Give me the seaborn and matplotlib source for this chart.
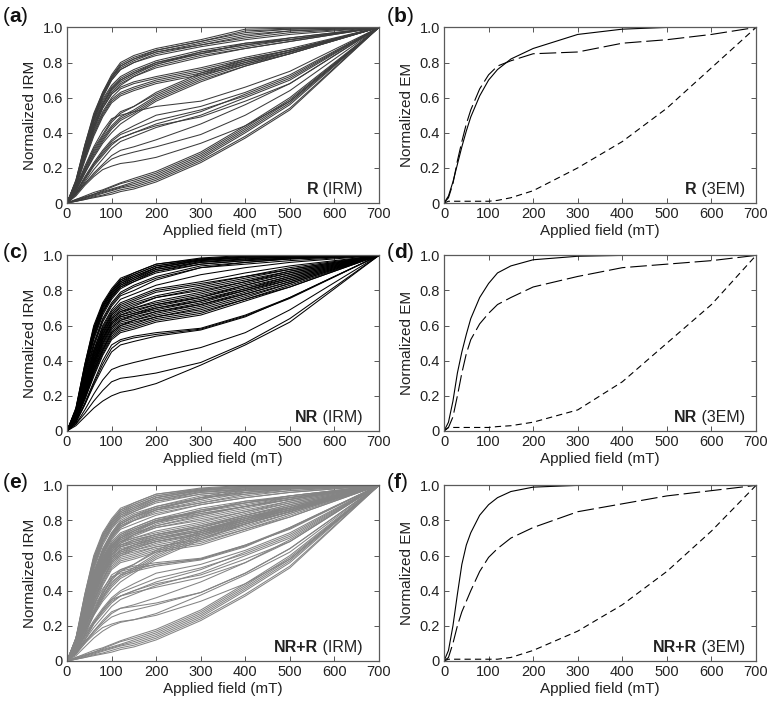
import matplotlib
matplotlib.use("Agg")
import matplotlib.pyplot as plt
import numpy as np
import pandas as pd
import seaborn as sns
from matplotlib.offsetbox import TextArea, HPacker, AnchoredOffsetbox

# ---- data ----
# IRM acquisition curves, normalized, sampled at these applied fields (mT)
field_irm = [0, 20, 40, 60, 80, 100, 120, 150, 200, 300, 400, 500, 700]

# R samples
irm_r = [
    [0, .13, .33, .50, .63, .72, .79, .83, .87, .92, .97, .99, 1],
    [0, .12, .32, .49, .62, .71, .78, .82, .86, .91, .96, .98, 1],
    [0, .12, .31, .48, .61, .71, .77, .81, .86, .90, .95, .98, 1],
    [0, .13, .33, .51, .63, .73, .80, .84, .88, .93, .99, .995, 1],
    [0, .12, .31, .48, .61, .70, .76, .80, .85, .90, .94, .97, 1],
    [0, .11, .30, .47, .60, .70, .76, .80, .84, .89, .93, .96, 1],
    [0, .12, .32, .49, .62, .72, .78, .82, .87, .92, .98, .99, 1],
    [0, .11, .29, .45, .57, .65, .70, .74, .79, .85, .89, .93, 1],
    [0, .11, .28, .44, .56, .64, .69, .73, .79, .86, .90, .93, 1],
    [0, .10, .27, .43, .55, .63, .68, .72, .78, .84, .88, .92, 1],
    [0, .11, .29, .46, .58, .66, .71, .75, .80, .86, .90, .94, 1],
    [0, .12, .30, .47, .59, .67, .72, .76, .81, .87, .91, .94, 1],
    [0, .10, .27, .42, .54, .62, .67, .72, .77, .83, .88, .92, 1],
    [0, .11, .28, .44, .56, .65, .70, .74, .80, .85, .91, .93, 1],
    [0, .10, .26, .40, .51, .59, .63, .66, .70, .75, .81, .86, 1],
    [0, .10, .25, .39, .50, .58, .62, .65, .69, .74, .80, .86, 1],
    [0, .09, .24, .38, .49, .57, .61, .64, .68, .73, .79, .85, 1],
    [0, .10, .26, .41, .52, .60, .65, .68, .71, .76, .82, .87, 1],
    [0, .11, .27, .42, .54, .62, .66, .69, .72, .77, .83, .88, 1],
    [0, .08, .19, .29, .37, .44, .49, .53, .61, .72, .80, .86, 1],
    [0, .08, .18, .28, .36, .43, .48, .52, .60, .71, .79, .86, 1],
    [0, .07, .17, .27, .35, .42, .47, .51, .59, .70, .78, .85, 1],
    [0, .08, .19, .30, .38, .46, .51, .55, .62, .73, .81, .87, 1],
    [0, .09, .20, .31, .39, .47, .52, .55, .63, .74, .82, .87, 1],
    [0, .07, .17, .26, .34, .40, .45, .50, .58, .69, .78, .85, 1],
    [0, .09, .21, .32, .41, .48, .50, .52, .55, .58, .66, .75, 1],
    [0, .06, .15, .23, .30, .36, .40, .44, .50, .55, .63, .73, 1],
    [0, .06, .14, .22, .29, .35, .39, .42, .47, .53, .61, .71, 1],
    [0, .05, .13, .21, .27, .33, .37, .40, .45, .52, .62, .72, 1],
    [0, .05, .12, .19, .25, .31, .35, .38, .43, .50, .60, .70, 1],
    [0, .06, .14, .22, .28, .34, .37, .40, .44, .49, .58, .68, 1],
    [0, .05, .11, .17, .22, .27, .30, .32, .36, .45, .56, .68, 1],
    [0, .04, .10, .15, .19, .21, .225, .235, .26, .34, .44, .58, 1],
    [0, .05, .11, .16, .21, .25, .27, .29, .32, .39, .50, .64, 1],
    [0, .015, .03, .045, .06, .075, .09, .11, .15, .26, .41, .57, 1],
    [0, .015, .03, .05, .065, .08, .095, .12, .16, .27, .42, .58, 1],
    [0, .01, .025, .04, .055, .07, .085, .10, .14, .25, .40, .56, 1],
    [0, .02, .035, .05, .07, .09, .11, .13, .17, .28, .43, .59, 1],
    [0, .01, .02, .035, .045, .06, .075, .09, .13, .24, .38, .54, 1],
    [0, .02, .04, .06, .075, .095, .115, .14, .18, .29, .44, .60, 1],
    [0, .01, .02, .03, .04, .05, .065, .08, .12, .23, .37, .53, 1],
]

# NR samples
irm_nr = [
    [0, .13, .38, .60, .73, .81, .87, .90, .95, .985, 1.0, 1.0, 1],
    [0, .13, .38, .59, .72, .80, .86, .90, .95, .98, .995, 1.0, 1],
    [0, .12, .37, .58, .72, .80, .86, .89, .94, .98, .995, 1.0, 1],
    [0, .12, .36, .58, .71, .79, .85, .89, .94, .975, .99, .995, 1],
    [0, .12, .36, .57, .71, .79, .85, .88, .93, .975, .99, .995, 1],
    [0, .12, .35, .56, .70, .78, .84, .88, .93, .97, .99, .995, 1],
    [0, .11, .35, .56, .70, .78, .84, .87, .93, .97, .985, .99, 1],
    [0, .11, .34, .55, .69, .77, .83, .87, .92, .965, .98, .99, 1],
    [0, .11, .34, .54, .68, .77, .83, .86, .92, .96, .98, .99, 1],
    [0, .11, .33, .54, .68, .76, .82, .86, .91, .96, .975, .985, 1],
    [0, .10, .33, .53, .67, .76, .82, .85, .91, .95, .97, .985, 1],
    [0, .10, .32, .52, .66, .75, .81, .85, .90, .95, .97, .98, 1],
    [0, .10, .31, .50, .64, .73, .79, .83, .88, .94, .96, .98, 1],
    [0, .10, .30, .49, .63, .72, .78, .82, .87, .93, .96, .98, 1],
    [0, .09, .29, .48, .62, .71, .77, .80, .86, .93, .95, .97, 1],
    [0, .09, .28, .46, .60, .69, .75, .78, .83, .89, .93, .96, 1],
    [0, .09, .28, .46, .59, .68, .73, .76, .81, .85, .90, .94, 1],
    [0, .09, .27, .45, .58, .67, .72, .75, .80, .84, .88, .93, 1],
    [0, .09, .27, .44, .57, .66, .71, .74, .79, .83, .88, .92, 1],
    [0, .09, .26, .44, .57, .66, .70, .73, .77, .82, .87, .92, 1],
    [0, .08, .26, .43, .56, .65, .69, .72, .76, .81, .86, .91, 1],
    [0, .08, .25, .42, .55, .64, .68, .71, .76, .80, .85, .91, 1],
    [0, .08, .25, .42, .55, .64, .68, .70, .74, .79, .85, .90, 1],
    [0, .08, .24, .41, .54, .63, .67, .70, .73, .78, .84, .90, 1],
    [0, .08, .24, .40, .53, .62, .66, .69, .72, .77, .83, .89, 1],
    [0, .08, .24, .40, .53, .62, .66, .68, .72, .76, .83, .89, 1],
    [0, .07, .23, .39, .52, .61, .65, .67, .71, .76, .82, .88, 1],
    [0, .07, .23, .39, .52, .61, .65, .67, .70, .75, .81, .88, 1],
    [0, .07, .22, .38, .51, .60, .64, .66, .70, .74, .81, .87, 1],
    [0, .07, .22, .38, .50, .59, .63, .66, .69, .74, .80, .87, 1],
    [0, .07, .22, .37, .50, .59, .63, .65, .68, .73, .80, .86, 1],
    [0, .07, .21, .36, .49, .58, .62, .64, .68, .72, .79, .86, 1],
    [0, .07, .21, .36, .48, .57, .61, .63, .67, .72, .78, .85, 1],
    [0, .06, .20, .35, .47, .56, .60, .63, .66, .71, .78, .85, 1],
    [0, .06, .20, .34, .46, .56, .60, .62, .65, .70, .77, .84, 1],
    [0, .06, .19, .34, .46, .55, .59, .61, .65, .69, .76, .84, 1],
    [0, .06, .19, .33, .45, .54, .58, .60, .64, .68, .75, .83, 1],
    [0, .06, .18, .32, .44, .53, .57, .59, .63, .67, .75, .82, 1],
    [0, .06, .18, .31, .43, .52, .56, .58, .62, .66, .74, .82, 1],
    [0, .05, .16, .28, .40, .49, .52, .54, .56, .585, .66, .76, 1],
    [0, .05, .15, .27, .38, .47, .51, .53, .55, .58, .655, .755, 1],
    [0, .05, .15, .26, .36, .45, .49, .51, .54, .575, .65, .76, 1],
    [0, .04, .12, .21, .29, .35, .37, .39, .42, .475, .56, .69, 1],
    [0, .04, .10, .17, .23, .28, .30, .31, .33, .39, .50, .64, 1],
    [0, .03, .08, .13, .17, .20, .22, .235, .27, .375, .49, .62, 1],
]

# end-member (3EM) curves
field_em = [0, 10, 20, 30, 40, 50, 60, 80, 100, 120, 150, 200, 300, 400, 500, 600, 700]

em_r_1 = [0, .04, .12, .22, .32, .41, .49, .61, .70, .76, .82, .88, .96, .99, 1.0, 1.0, 1.0]
em_r_2 = [0, .03, .11, .24, .35, .45, .53, .65, .73, .78, .81, .85, .86, .91, .93, .96, 1.0]
em_r_3 = [0, .01, .01, .01, .01, .01, .01, .01, .01, .015, .03, .07, .20, .35, .54, .77, 1.0]

em_nr_1 = [0, .05, .17, .33, .45, .55, .64, .76, .84, .90, .94, .975, .995, 1.0, 1.0, 1.0, 1.0]
em_nr_2 = [0, .02, .08, .20, .33, .44, .52, .61, .67, .72, .76, .82, .88, .93, .95, .97, 1.0]
em_nr_3 = [0, .02, .02, .02, .02, .02, .02, .02, .02, .025, .03, .05, .12, .28, .50, .72, 1.0]

em_all_1 = [0, .06, .20, .38, .55, .66, .73, .83, .89, .93, .965, .99, 1.0, 1.0, 1.0, 1.0, 1.0]
em_all_2 = [0, .02, .10, .20, .28, .34, .40, .51, .59, .64, .70, .76, .85, .895, .94, .97, 1.0]
em_all_3 = [0, .01, .01, .01, .01, .01, .01, .01, .01, .01, .02, .06, .17, .32, .51, .74, 1.0]


def irm_frame(curves, offset=0):
    rows = []
    for i, c in enumerate(curves):
        for f, v in zip(field_irm, c):
            rows.append((i + offset, f, v))
    return pd.DataFrame(rows, columns=["curve", "field", "value"])


def em_frame(e1, e2, e3):
    rows = []
    for name, c in (("EM1", e1), ("EM2", e2), ("EM3", e3)):
        for f, v in zip(field_em, c):
            rows.append((name, f, v))
    return pd.DataFrame(rows, columns=["member", "field", "value"])


df_r = irm_frame(irm_r)
df_nr = irm_frame(irm_nr)
df_all = pd.concat([irm_frame(irm_r), irm_frame(irm_nr, offset=len(irm_r))])

# ---- style ----
sns.set_theme(style="ticks")
plt.rcParams["font.family"] = ["Liberation Sans", "DejaVu Sans"]
plt.rcParams["lines.scale_dashes"] = False

fig = plt.figure(figsize=(7.71, 7.01), dpi=100)

left_x, right_x, w = 0.0869, 0.5759, 0.4047
rows_y = [0.7104, 0.3852, 0.0571]
h = 0.2505


def style_axes(ax, ylabel):
    ax.set_xlim(0, 700)
    ax.set_ylim(0, 1)
    ax.set_xticks(range(0, 701, 100))
    ax.set_yticks([0, 0.2, 0.4, 0.6, 0.8, 1.0])
    ax.set_yticklabels(["0", "0.2", "0.4", "0.6", "0.8", "1.0"])
    ax.tick_params(direction="in", top=True, right=True, length=3.5, width=0.7,
                   color="#555555", labelsize=10.5, labelcolor="#222222", pad=3)
    for s in ax.spines.values():
        s.set_color("#5a5a5a")
        s.set_linewidth(0.9)
    ax.set_xlabel("Applied field (mT)", fontsize=11, color="#222222", labelpad=2)
    ax.set_ylabel(ylabel, fontsize=11, color="#222222", labelpad=4)


def tag(ax, bold, rest, xa):
    box = HPacker(children=[
        TextArea(bold, textprops=dict(fontsize=11.5, fontweight="bold", color="#222222")),
        TextArea(" " + rest, textprops=dict(fontsize=11.5, color="#222222")),
    ], sep=0, pad=0, align="baseline")
    ab = AnchoredOffsetbox(loc="lower right", child=box, frameon=False, pad=0, borderpad=0,
                           bbox_to_anchor=(xa, 0.035), bbox_transform=ax.transAxes)
    ax.add_artist(ab)


def panel_label(letter, x, y):
    box = HPacker(children=[
        TextArea("(", textprops=dict(fontsize=15, color="#111111")),
        TextArea(letter, textprops=dict(fontsize=15, fontweight="bold", color="#111111")),
        TextArea(")", textprops=dict(fontsize=15, color="#111111")),
    ], sep=0, pad=0, align="baseline")
    ab = AnchoredOffsetbox(loc="center left", child=box, frameon=False, pad=0, borderpad=0,
                           bbox_to_anchor=(x, y), bbox_transform=fig.transFigure)
    fig.add_artist(ab)


dash_map = {"EM1": "", "EM2": (12, 3.5), "EM3": (4.5, 3)}

irm_sets = [(df_r, "#3c3c3c", "R"), (df_nr, "black", "NR"), (df_all, "#848484", "NR+R")]
em_sets = [(em_r_1, em_r_2, em_r_3, "R"), (em_nr_1, em_nr_2, em_nr_3, "NR"),
           (em_all_1, em_all_2, em_all_3, "NR+R")]
letters = [("a", "b"), ("c", "d"), ("e", "f")]
label_y = [0.977, 0.640, 0.311]

for i in range(3):
    ax1 = fig.add_axes([left_x, rows_y[i], w, h])
    d, col, name = irm_sets[i]
    sns.lineplot(data=d, x="field", y="value", units="curve", estimator=None,
                 color=col, lw=0.75, ax=ax1, legend=False)
    style_axes(ax1, "Normalized IRM")
    tag(ax1, name, "(IRM)", 0.949)

    ax2 = fig.add_axes([right_x, rows_y[i], w, h])
    e1, e2, e3, name = em_sets[i]
    sns.lineplot(data=em_frame(e1, e2, e3), x="field", y="value", style="member",
                 dashes=dash_map, color="black", lw=0.8, ax=ax2, legend=False)
    style_axes(ax2, "Normalized EM")
    tag(ax2, name, "(3EM)", 0.965)

    panel_label(letters[i][0], 0.003, label_y[i])
    panel_label(letters[i][1], 0.502, label_y[i])

fig.savefig("out.png", dpi=100)
